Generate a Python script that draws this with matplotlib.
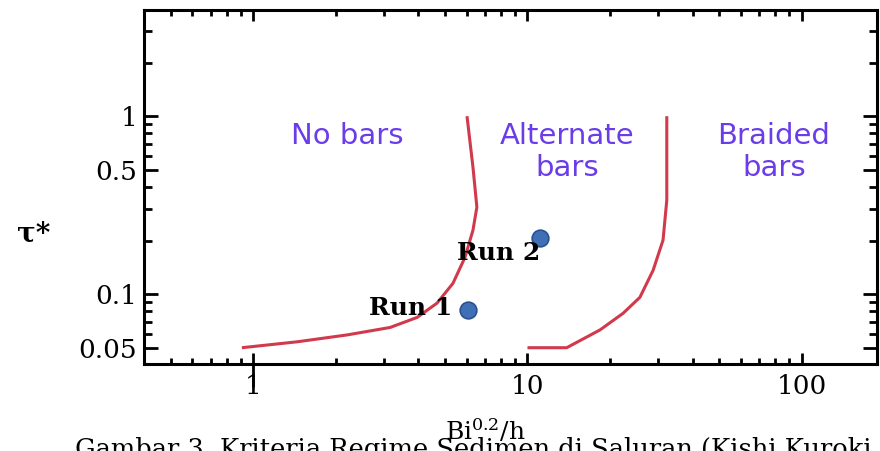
import numpy as np
import matplotlib
matplotlib.use("Agg")
import matplotlib.pyplot as plt
from matplotlib.path import Path
from matplotlib.ticker import FixedLocator, FixedFormatter, LogLocator, NullFormatter

# Boundary between "No bars" and "Alternate bars"
left_x = [0.91, 1.45, 2.20, 3.16, 3.96, 4.68, 5.35, 5.92, 6.33, 6.54, 6.33, 6.02]
left_y = [0.050, 0.054, 0.059, 0.065, 0.074, 0.089, 0.115, 0.161, 0.229, 0.308, 0.516, 1.0]

# Boundary between "Alternate bars" and "Braided bars"
right_x = [10.0, 13.9, 18.4, 22.3, 25.7, 28.7, 31.2, 32.2, 32.2]
right_y = [0.050, 0.050, 0.063, 0.078, 0.096, 0.136, 0.201, 0.337, 1.0]

# Measured runs
run_names = ["Run 1", "Run 2"]
run_x = [6.07, 11.1]
run_y = [0.081, 0.206]

# Region names
regions = ["No bars", "Alternate\nbars", "Braided\nbars"]
region_x = [2.2, 14.0, 79.0]
region_y = [0.93, 0.93, 0.93]

xticks = [1, 10, 100]
xtick_labels = ["1", "10", "100"]
yticks = [0.05, 0.1, 0.5, 1]
ytick_labels = ["0.05", "0.1", "0.5", "1"]

caption = "Gambar 3. Kriteria Regime Sedimen di Saluran (Kishi Kuroki"

red = "#d03a4c"
purple = "#6a3de8"

plt.rcParams["mathtext.fontset"] = "dejavuserif"

fig = plt.figure(figsize=(8.8, 4.51), dpi=100)
ax = fig.add_axes([0.1636, 0.1929, 0.833, 0.7849])

ax.set_xscale("log")
ax.set_yscale("log")
ax.set_xlim(0.4, 188)
ax.set_ylim(0.0405, 3.95)

# Curves
ax.plot(left_x, left_y, color=red, lw=2.2, solid_capstyle="butt")
ax.plot(right_x, right_y, color=red, lw=2.2, solid_capstyle="butt")

# Runs
ax.plot(run_x, run_y, "o", ms=12, color="#3f6fb5", mec="#2b5290", mew=1.2, ls="none")
ax.text(5.31, 0.0762, run_names[0], ha="right", va="baseline",
        family="DejaVu Serif", weight="bold", fontsize=18)
ax.text(5.53, 0.155, run_names[1], ha="left", va="baseline",
        family="DejaVu Serif", weight="bold", fontsize=18)

# Region names
for name, rx, ry in zip(regions, region_x, region_y):
    ax.text(rx, ry, name, ha="center", va="top", color=purple,
            family="DejaVu Sans", fontsize=21)

# Axes styling
for s in ax.spines.values():
    s.set_linewidth(2.2)

ax.xaxis.set_major_locator(FixedLocator(xticks))
ax.xaxis.set_major_formatter(FixedFormatter(xtick_labels))
ax.xaxis.set_minor_locator(LogLocator(base=10, subs=np.arange(2, 10)))
ax.xaxis.set_minor_formatter(NullFormatter())
ax.yaxis.set_major_locator(FixedLocator(yticks))
ax.yaxis.set_major_formatter(FixedFormatter(ytick_labels))
ax.yaxis.set_minor_locator(LogLocator(base=10, subs=np.arange(1, 10)))
ax.yaxis.set_minor_formatter(NullFormatter())

ax.tick_params(which="both", direction="in", top=True, right=True, width=2)
ax.tick_params(axis="x", which="major", length=8, pad=7)
ax.tick_params(axis="x", which="minor", length=4.5)
ax.tick_params(axis="y", which="major", length=10, pad=5)
ax.tick_params(axis="y", which="minor", length=5.5)
for lab in ax.get_xticklabels() + ax.get_yticklabels():
    lab.set_family("DejaVu Serif")
    lab.set_fontsize(19)

# the tick at x=1 also sticks out below the axis (short above, long below)
long_tick = Path([(0, -2), (0, 1)])
major_ticks = ax.xaxis.get_major_ticks()
first = major_ticks[xticks.index(1)]
first.tick1line.set_marker(long_tick)
first.tick1line.set_markersize(33)

ax.set_ylabel("τ*", rotation=0, family="DejaVu Serif", weight="bold", fontsize=20)
ax.yaxis.set_label_coords(-0.15, 0.33)
ax.set_xlabel("Bi$^{0.2}$/h", family="DejaVu Serif", fontsize=18)
ax.xaxis.set_label_coords(0.465, -0.15)

fig.text(75 / 880, -0.014, caption, ha="left", va="baseline",
         family="DejaVu Serif", fontsize=18.5)

fig.savefig("out.png", dpi=100)
